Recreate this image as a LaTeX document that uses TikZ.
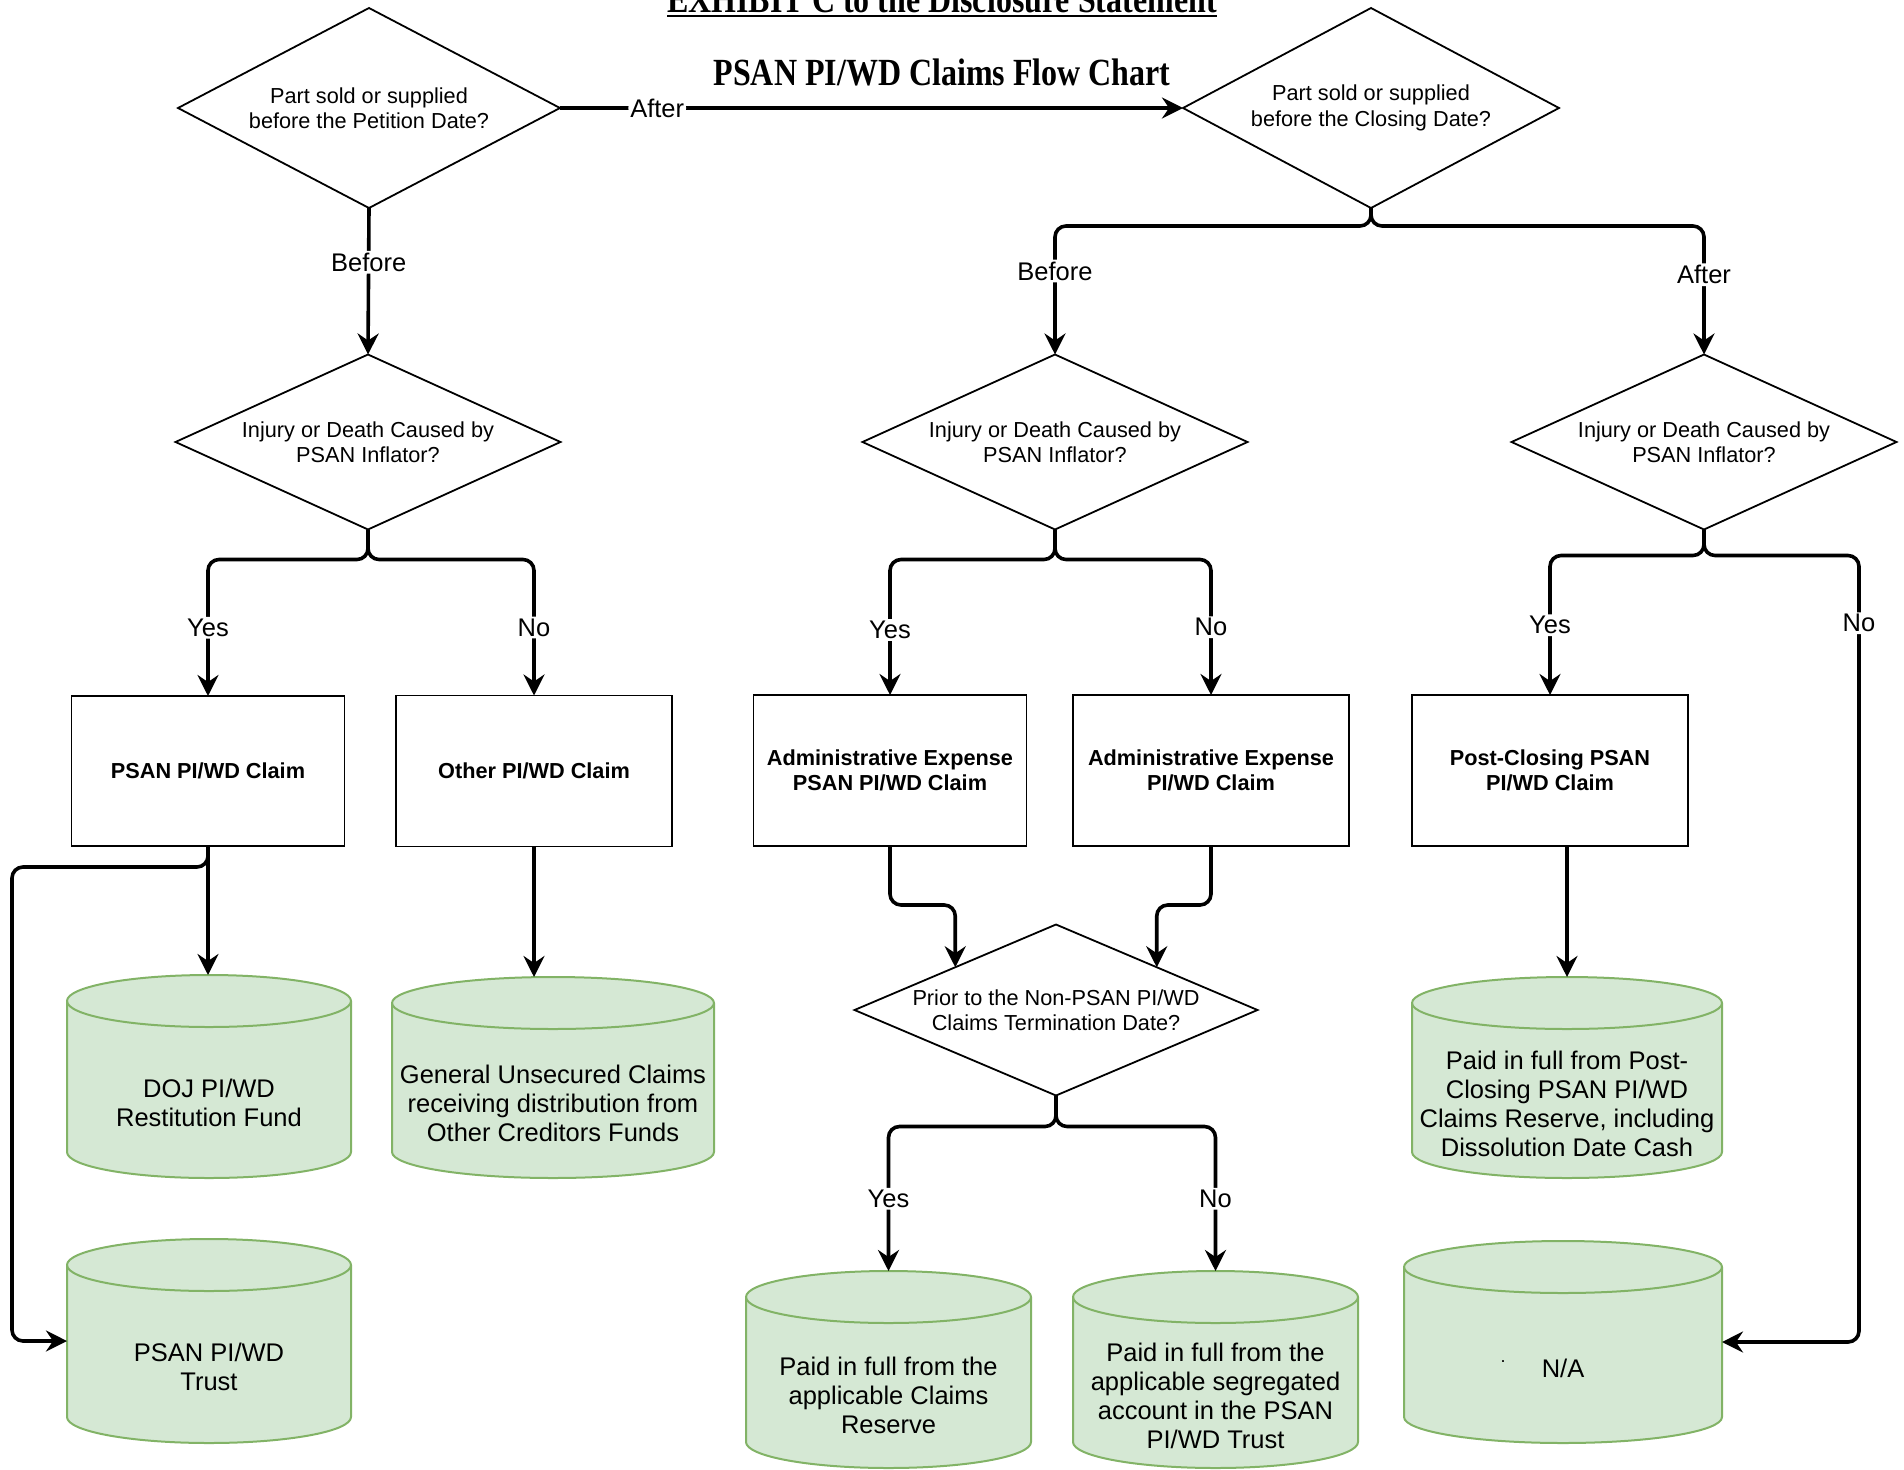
\documentclass[tikz,border=0pt]{standalone}
\usepackage{fontspec}
\setmainfont{Liberation Sans}
\newfontfamily\titlefont{Liberation Serif}
\usepackage{graphicx}
\usetikzlibrary{shapes.geometric,arrows.meta,calc}
\definecolor{cylfillc}{HTML}{D5E8D4}
\definecolor{cyllinec}{HTML}{82B366}

% name, cx, cy, w, h, text
\newcommand\mycyl[6]{%
  \path[cylshape] (#2-#4/2, #3+#5/2-26) -- (#2-#4/2, #3-#5/2+26)
     arc[start angle=180, end angle=360, x radius=#4/2, y radius=26]
     -- (#2+#4/2, #3+#5/2-26)
     arc[start angle=0, end angle=180, x radius=#4/2, y radius=26] -- cycle;
  \draw[cylfront] (#2-#4/2, #3+#5/2-26)
     arc[start angle=180, end angle=360, x radius=#4/2, y radius=26];
  \node[cylbox, minimum width=#4, minimum height=#5] (#1) at (#2,#3) {};
  \node[cyltext] (#1-t) at (#2, #3-26) {#6};
}

\begin{document}
\begin{tikzpicture}[x=1pt,y=1pt,
  dia/.style={diamond, draw, line width=1.8pt, inner sep=0pt, outer sep=0pt,
    align=center, font=\fontsize{21.7}{25.5}\selectfont},
  box/.style={rectangle, draw, line width=1.8pt, inner sep=0pt, outer sep=0pt,
    align=center, font=\fontsize{21.7}{25.5}\selectfont\bfseries},
  conn/.style={draw, line width=3.6pt, rounded corners=11pt,
    -{Stealth[length=21pt,width=21pt,inset=7pt]}},
  lbl/.style={fill=white, inner sep=2pt, font=\fontsize{25.5}{30}\selectfont},
  cylshape/.style={fill=cylfillc, draw=cyllinec, line width=2pt},
  cylfront/.style={draw=cyllinec, line width=2pt},
  cylbox/.style={rectangle, inner sep=0pt, outer sep=0pt},
  cyltext/.style={align=center, inner sep=0pt, font=\fontsize{25.5}{29}\selectfont},
  ttl/.style={anchor=base, inner sep=0pt, font=\titlefont\bfseries\fontsize{32}{38}\selectfont}
]
\useasboundingbox (0,0) rectangle (1904,-1470);

% titles
\node[ttl] (t1) at (942,-12) {\scalebox{1}[1.2]{EXHIBIT C to the Disclosure Statement}};
\draw[line width=2.5pt] ($(t1.base west)+(0,-4)$) -- ($(t1.base east)+(0,-4)$);
\node[ttl] (t2) at (942,-85) {\scalebox{1}[1.2]{PSAN PI/WD Claims Flow Chart}};

% diamonds
\node[dia, minimum width=382, minimum height=200, aspect=1.91] (D1) at (369,-108) {Part sold or supplied\\before the Petition Date?};
\node[dia, minimum width=376, minimum height=200, aspect=1.88] (D2) at (1371,-108) {Part sold or supplied\\before the Closing Date?};
\node[dia, minimum width=385, minimum height=175, aspect=2.2] (D3) at (368,-442) {Injury or Death Caused by\\PSAN Inflator?};
\node[dia, minimum width=385, minimum height=175, aspect=2.2] (D4) at (1055,-442) {Injury or Death Caused by\\PSAN Inflator?};
\node[dia, minimum width=385, minimum height=175, aspect=2.2] (D5) at (1704,-442) {Injury or Death Caused by\\PSAN Inflator?};
\node[dia, minimum width=403, minimum height=171, aspect=2.36] (D6) at (1056,-1010) {Prior to the Non-PSAN PI/WD\\Claims Termination Date?};

% boxes
\node[box, minimum width=273, minimum height=150] (B1) at (208,-771) {PSAN PI/WD Claim};
\node[box, minimum width=276, minimum height=151] (B2) at (534,-771) {Other PI/WD Claim};
\node[box, minimum width=273, minimum height=151] (B3) at (890,-770.5) {Administrative Expense\\PSAN PI/WD Claim};
\node[box, minimum width=276, minimum height=151] (B4) at (1211,-770.5) {Administrative Expense\\PI/WD Claim};
\node[box, minimum width=276, minimum height=151] (B5) at (1550,-770.5) {Post-Closing PSAN\\PI/WD Claim};

% cylinders
\mycyl{C1}{209}{-1076.5}{284}{203}{DOJ PI/WD\\Restitution Fund}
\mycyl{C2}{553}{-1077.5}{322}{201}{General Unsecured Claims\\receiving distribution from\\Other Creditors Funds}
\mycyl{C5}{1567}{-1077.5}{310}{201}{Paid in full from Post-\\Closing PSAN PI/WD\\Claims Reserve, including\\Dissolution Date Cash}
\mycyl{C6}{209}{-1341}{284}{204}{PSAN PI/WD\\Trust}
\mycyl{C3}{888.5}{-1369.5}{285}{197}{Paid in full from the\\applicable Claims\\Reserve}
\mycyl{C4}{1215.5}{-1369.5}{285}{197}{Paid in full from the\\applicable segregated\\account in the PSAN\\PI/WD Trust}
\mycyl{C7}{1563}{-1342}{318}{202}{N/A}
\node[anchor=base, inner sep=0pt, font=\fontsize{18}{18}\selectfont] (nadot) at (1503,-1362) {.};

% connectors
\draw[conn] (D1.east) -- node[lbl, pos=0.156]{After} (D2.west);
\draw[conn] (D1.south) -- node[lbl, pos=0.37]{Before} (D3.north);
\draw[conn] (D2.south) -- ++(0,-18) -| node[lbl, pos=0.675]{Before} (D4.north);
\draw[conn] (D2.south) -- ++(0,-18) -| node[lbl, pos=0.69]{After} (D5.north);
\draw[conn] (D3.south) -- ++(0,-30) -| node[lbl, pos=0.75]{Yes} (B1.north);
\draw[conn] (D3.south) -- ++(0,-30) -| node[lbl, pos=0.75]{No} (B2.north);
\draw[conn] (D4.south) -- ++(0,-30) -| node[lbl, pos=0.76]{Yes} (B3.north);
\draw[conn] (D4.south) -- ++(0,-30) -| node[lbl, pos=0.75]{No} (B4.north);
\draw[conn] (D5.south) -- ++(0,-26) -| node[lbl, pos=0.75]{Yes} (B5.north);
\coordinate (nc) at (1859,-1342);
\draw[conn] (D5.south) -- ++(0,-26) -| node[lbl, pos=0.543]{No} (nc) -- (C7.east);
\draw[conn] (B1.south) -- (B1.south |- C1.north);
\coordinate (lc) at (12,-1341);
\draw[conn] (B1.south) -- ++(0,-21) -| (lc) -- (C6.west);
\draw[conn] (B2.south) -- (B2.south |- C2.north);
\draw[conn] (B3.south) -- ++(0,-59) -| (D6.north west);
\draw[conn] (B4.south) -- ++(0,-59) -| (D6.north east);
\draw[conn] (D6.south) -- ++(0,-31) -| node[lbl, pos=0.75]{Yes} (C3.north);
\draw[conn] (D6.south) -- ++(0,-31) -| node[lbl, pos=0.75]{No} (C4.north);
\draw[conn] (B5.south -| C5.north) -- (C5.north);
\end{tikzpicture}
\end{document}
